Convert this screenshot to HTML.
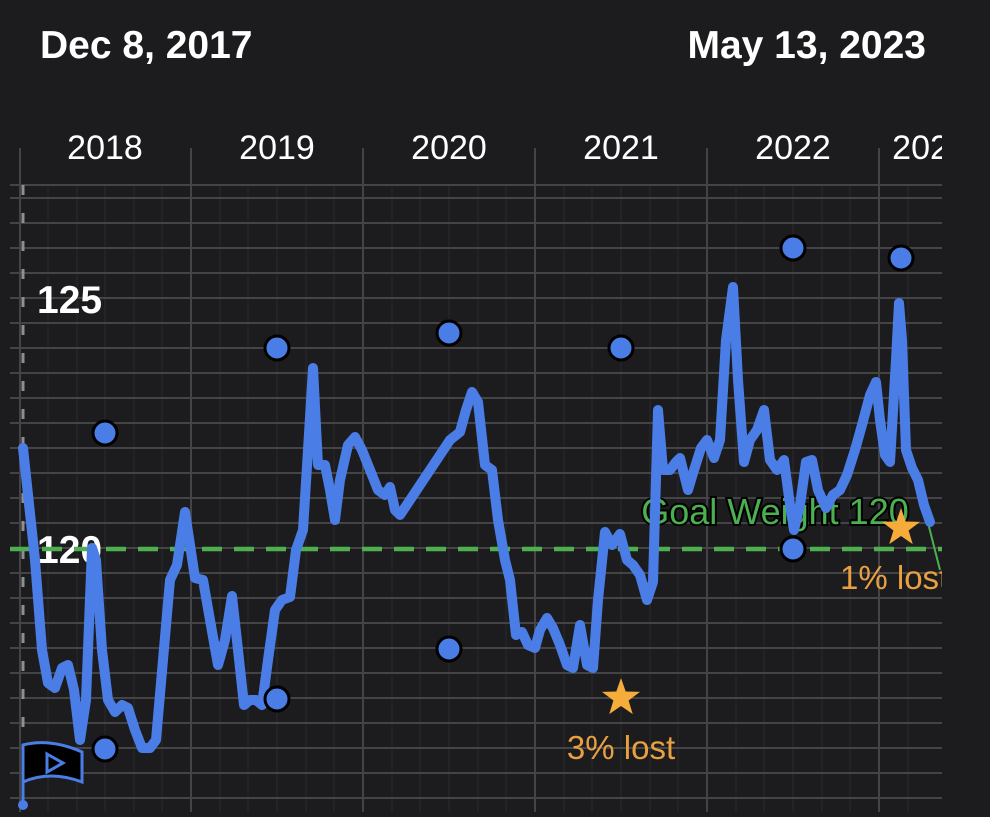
<!DOCTYPE html>
<html><head><style>
html,body{margin:0;padding:0;background:#1c1c1e;}
body{width:990px;height:812px;overflow:hidden;font-family:"Liberation Sans",sans-serif;}
</style></head><body>
<svg width="990" height="812" xmlns="http://www.w3.org/2000/svg" font-family="Liberation Sans, sans-serif">
<rect width="990" height="812" fill="#1c1c1e"/>
<text x="40" y="58" fill="#fff" font-size="39" font-weight="bold">Dec 8, 2017</text>
<text x="926" y="58" fill="#fff" font-size="39" font-weight="bold" text-anchor="end">May 13, 2023</text>
<defs><clipPath id="c"><rect x="0" y="0" width="942" height="812"/></clipPath></defs>
<g clip-path="url(#c)">
<g fill="#fff" font-size="34" text-anchor="middle">
<text x="105" y="159">2018</text><text x="277" y="159">2019</text><text x="449" y="159">2020</text><text x="621" y="159">2021</text><text x="793" y="159">2022</text><text x="930" y="159">2023</text>
</g>
<g stroke="#2a2a2c" stroke-width="1">
<path d="M48 185V812M77 185V812M105 185V812M134 185V812M162 185V812M220 185V812M248 185V812M277 185V812M306 185V812M334 185V812M392 185V812M420 185V812M449 185V812M478 185V812M506 185V812M564 185V812M592 185V812M621 185V812M650 185V812M678 185V812M736 185V812M764 185V812M793 185V812M822 185V812M850 185V812M908 185V812"/>
</g>
<g stroke="#444446" stroke-width="2">
<path d="M20 148V812M191 148V812M363 148V812M535 148V812M707 148V812M879 148V812"/>
<path d="M10 185H942M10 198H942M10 223H942M10 248H942M10 273H942M10 298H942M10 323H942M10 348H942M10 373H942M10 398H942M10 423H942M10 448H942M10 473H942M10 498H942M10 523H942M10 548H942M10 573H942M10 598H942M10 623H942M10 648H942M10 673H942M10 698H942M10 723H942M10 748H942M10 773H942M10 798H942"/>
</g>
<line x1="23" y1="185" x2="23" y2="800" stroke="#8e8e93" stroke-width="3" stroke-dasharray="10 18"/>
<text x="37" y="313" fill="#fff" font-size="39" font-weight="bold">125</text>
<text x="37" y="563" fill="#fff" font-size="39" font-weight="bold">120</text>
<text x="775" y="524" fill="#4cb050" stroke="#000" stroke-width="4" paint-order="stroke" font-size="36" text-anchor="middle">Goal Weight 120</text>
<line x1="10" y1="549" x2="942" y2="549" stroke="#4cb050" stroke-width="4.5" stroke-dasharray="20 12"/>
<line x1="926" y1="515" x2="940" y2="570" stroke="#4cb050" stroke-width="2"/>
<polyline fill="none" stroke="#4a7ee6" stroke-width="10" stroke-linejoin="round" stroke-linecap="round" points="23,448 35,560 42,650 48,683 55,688 62,668 68,665 74,690 80,740 86,700 92,548 96,560 102,650 108,700 115,712 122,705 128,708 135,730 142,748 150,748 156,740 163,660 170,580 177,565 185,512 190,545 195,578 203,580 210,620 218,665 225,640 232,596 238,650 244,705 250,700 256,700 262,705 268,660 275,610 282,600 290,597 296,550 303,530 308,450 313,368 318,465 325,465 330,490 335,520 340,480 348,445 355,437 362,450 370,470 378,490 385,495 390,487 395,510 400,515 410,500 420,485 430,470 440,455 450,440 460,432 466,410 472,392 478,402 485,465 492,470 498,520 505,560 510,580 516,635 522,632 528,645 535,648 540,630 547,618 553,628 560,645 567,665 573,668 580,625 587,665 593,668 598,600 605,532 612,545 620,534 627,560 633,565 640,575 647,600 653,582 658,410 663,470 670,470 676,462 680,458 688,490 694,470 701,448 707,440 714,458 720,440 726,340 733,287 738,380 744,462 750,440 757,430 764,410 770,460 777,470 784,460 790,505 794,530 800,505 806,462 812,460 818,490 826,508 833,495 840,490 847,475 855,450 862,425 870,395 876,382 880,420 885,455 890,462 896,360 899,303 902,340 906,450 912,468 918,480 924,505 930,522"/>
<g fill="#4a7ee6" stroke="#000" stroke-width="3">
<circle cx="105" cy="433" r="12"/><circle cx="105" cy="749" r="12"/><circle cx="277" cy="348" r="12"/><circle cx="277" cy="699" r="12"/><circle cx="449" cy="333" r="12"/><circle cx="449" cy="649" r="12"/><circle cx="621" cy="348" r="12"/><circle cx="793" cy="248" r="12"/><circle cx="793" cy="549" r="12"/><circle cx="901" cy="258" r="12"/>
</g>
<g fill="#f5ac3b">
<polygon transform="translate(621,698) scale(20)" points="0,-1 0.235,-0.324 0.951,-0.309 0.38,0.124 0.588,0.809 0,0.4 -0.588,0.809 -0.38,0.124 -0.951,-0.309 -0.235,-0.324"/>
<polygon transform="translate(901,528) scale(20)" points="0,-1 0.235,-0.324 0.951,-0.309 0.38,0.124 0.588,0.809 0,0.4 -0.588,0.809 -0.38,0.124 -0.951,-0.309 -0.235,-0.324"/>
</g>
<text x="621" y="759" fill="#e8a040" font-size="33" text-anchor="middle">3% lost</text>
<text x="840" y="589" fill="#e8a040" font-size="33">1% lost</text>
<line x1="23" y1="745" x2="23" y2="805" stroke="#4a7ee6" stroke-width="3"/>
<circle cx="23" cy="805" r="5" fill="#4a7ee6"/>
<path d="M23 745 Q50 738 82 752 L82 782 Q50 770 23 782 Z" fill="#000" stroke="#4a7ee6" stroke-width="3"/>
<path d="M47 754 L63 763 L47 772 Z" fill="none" stroke="#4a7ee6" stroke-width="3"/>
</g>
</svg>
</body></html>
